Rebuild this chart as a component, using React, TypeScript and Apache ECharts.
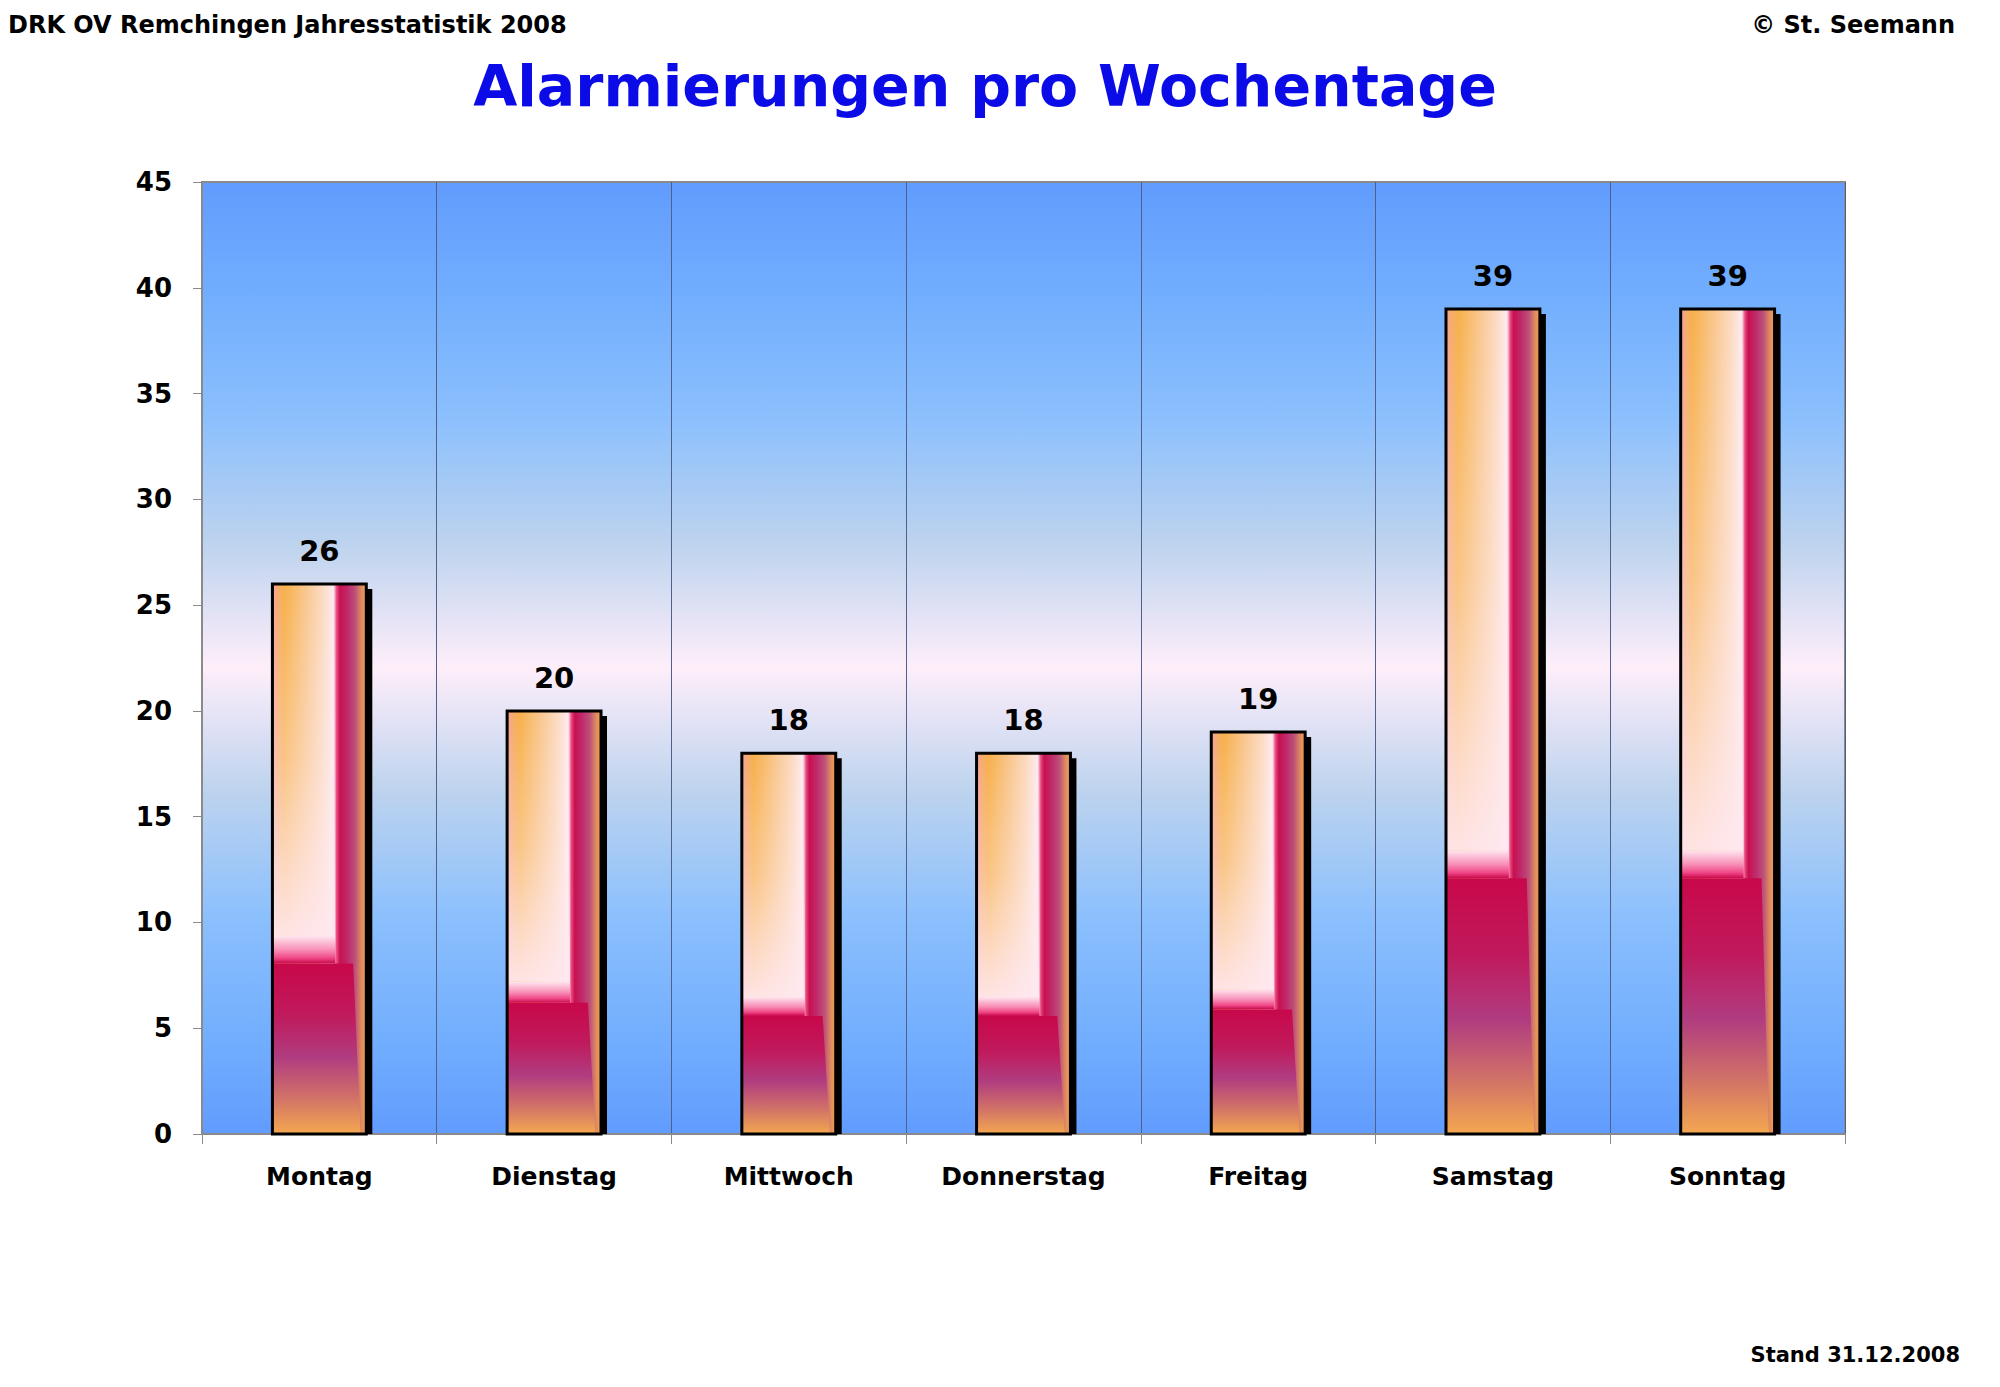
import React, { useEffect, useRef } from "react";
import * as echarts from "echarts";

const categories = ["Montag", "Dienstag", "Mittwoch", "Donnerstag", "Freitag", "Samstag", "Sonntag"];
const values = [26, 20, 18, 18, 19, 39, 39];
const yMin = 0;
const yMax = 45;
const yInterval = 5;
const headerLeft = "DRK OV Remchingen Jahresstatistik 2008";
const headerRight = "© St. Seemann";
const titleText = "Alarmierungen pro Wochentage";
const footerText = "Stand 31.12.2008";

const FONT = "'DejaVu Sans', 'Noto Sans', sans-serif";

export default function App() {
  const ref = useRef<HTMLDivElement>(null);

  useEffect(() => {
    document.body.style.margin = "0";
    if (!ref.current) return;
    const chart = echarts.init(ref.current, null, { renderer: "svg" });
    const LG = echarts.graphic.LinearGradient;

    const renderBar = (params: any, api: any) => {
      const idx = api.value(0);
      const v = api.value(1);
      const top = api.coord([idx, v]);
      const base = api.coord([idx, 0]);
      const bw = api.size([1, 0])[0] * 0.4;
      const x = top[0] - bw / 2;
      const y = top[1];
      const h = base[1] - y;
      const yT = base[1] - h * 0.31;
      const band = Math.min(28, h * 0.05);
      return {
        type: "group",
        children: [
          { type: "rect", shape: { x: x + 6, y: y + 5, width: bw, height: h - 5 }, style: { fill: "#000" } },
          {
            type: "rect",
            shape: { x, y, width: bw, height: h },
            style: {
              fill: new LG(0, 0, 1, 0, [
                { offset: 0, color: "#F4A0A8" },
                { offset: 0.05, color: "#F6AA70" },
                { offset: 0.13, color: "#F7B04A" },
                { offset: 0.35, color: "#F9C68C" },
                { offset: 0.55, color: "#FCDCC6" },
                { offset: 0.65, color: "#FFEAF0" },
                { offset: 0.685, color: "#E84880" },
                { offset: 0.72, color: "#C8104E" },
                { offset: 0.8, color: "#C02A6C" },
                { offset: 0.88, color: "#BC5078" },
                { offset: 0.95, color: "#E08C60" },
                { offset: 1, color: "#F0A050" },
              ]),
            },
          },
          {
            type: "rect",
            shape: { x, y, width: bw * 0.67, height: Math.max(0, yT - band - y) },
            style: {
              fill: new LG(0, 0, 0, 1, [
                { offset: 0, color: "rgba(255,240,245,0)" },
                { offset: 0.5, color: "rgba(255,236,240,0.35)" },
                { offset: 1, color: "rgba(255,232,240,0.92)" },
              ]),
            },
          },
          {
            type: "rect",
            shape: { x, y: yT - band, width: bw * 0.67, height: band },
            style: {
              fill: new LG(0, 0, 0, 1, [
                { offset: 0, color: "#FFE6EE" },
                { offset: 0.5, color: "#F890B8" },
                { offset: 0.8, color: "#F04888" },
                { offset: 1, color: "#C8084A" },
              ]),
            },
          },
          {
            type: "polygon",
            shape: {
              points: [
                [x, yT],
                [x + bw * 0.86, yT],
                [x + bw * 0.94, base[1]],
                [x, base[1]],
              ],
            },
            style: {
              fill: new LG(0, 0, 0, 1, [
                { offset: 0, color: "#C8084A" },
                { offset: 0.3, color: "#C01A5C" },
                { offset: 0.55, color: "#B03C80" },
                { offset: 0.78, color: "#D07068" },
                { offset: 1, color: "#F4A850" },
              ]),
            },
          },
          { type: "rect", shape: { x, y, width: bw, height: h }, style: { fill: "none", stroke: "#000", lineWidth: 3 } },
          {
            type: "text",
            style: {
              text: String(v),
              x: top[0],
              y: y - 33,
              align: "center",
              verticalAlign: "middle",
              fontSize: 29,
              fontWeight: "bold",
              fontFamily: FONT,
              fill: "#000",
            },
          },
        ],
      };
    };

    const option: any = {
      animation: false,
      grid: {
        left: 202,
        top: 182,
        width: 1643,
        height: 952,
        show: true,
        borderColor: "#8A8A8A",
        borderWidth: 2,
        backgroundColor: new LG(0, 0, 0, 1, [
          { offset: 0, color: "#619CFE" },
          { offset: 0.12, color: "#72AEFE" },
          { offset: 0.25, color: "#8CC0FD" },
          { offset: 0.38, color: "#BDD3EE" },
          { offset: 0.51, color: "#FEEEFA" },
          { offset: 0.64, color: "#BDD3EE" },
          { offset: 0.77, color: "#8CC0FD" },
          { offset: 0.9, color: "#72AEFE" },
          { offset: 1, color: "#619CFE" },
        ]),
      },
      xAxis: {
        type: "category",
        data: categories,
        boundaryGap: true,
        axisLine: { show: true, lineStyle: { color: "#8A8A8A", width: 2 } },
        axisTick: { show: true, interval: 0, length: 10, lineStyle: { color: "#8A8A8A", width: 1 } },
        axisLabel: { interval: 0, margin: 30, color: "#000", fontSize: 25, fontWeight: "bold", fontFamily: FONT },
        splitLine: { show: true, interval: 0, lineStyle: { color: "#50608A", width: 1 } },
      },
      yAxis: {
        type: "value",
        min: yMin,
        max: yMax,
        interval: yInterval,
        axisLine: { show: true, lineStyle: { color: "#8A8A8A", width: 2 } },
        axisTick: { show: true, length: 9, lineStyle: { color: "#8A8A8A", width: 1 } },
        axisLabel: { margin: 30, color: "#000", fontSize: 26, fontWeight: "bold", fontFamily: FONT },
        splitLine: { show: false },
      },
      series: [
        {
          type: "custom",
          renderItem: renderBar,
          encode: { x: 0, y: 1 },
          data: categories.map((c, i) => [i, values[i]]),
          z: 5,
        },
      ],
      graphic: [
        {
          type: "text",
          left: 8,
          top: 13,
          style: { text: headerLeft, fontSize: 24, fontWeight: "bold", fontFamily: FONT, fill: "#000" },
        },
        {
          type: "text",
          right: 45,
          top: 13,
          style: { text: headerRight, fontSize: 24, fontWeight: "bold", fontFamily: FONT, fill: "#000" },
        },
        {
          type: "text",
          x: 985,
          y: 86,
          style: {
            text: titleText,
            align: "center",
            verticalAlign: "middle",
            fontSize: 57,
            fontWeight: "bold",
            fontFamily: FONT,
            fill: "#0B0BE8",
          },
        },
        {
          type: "text",
          right: 40,
          top: 1344,
          style: { text: footerText, fontSize: 21, fontWeight: "bold", fontFamily: FONT, fill: "#000" },
        },
      ],
    };

    chart.setOption(option);
    return () => chart.dispose();
  }, []);

  return <div ref={ref} style={{ width: 2000, height: 1387 }} />;
}
